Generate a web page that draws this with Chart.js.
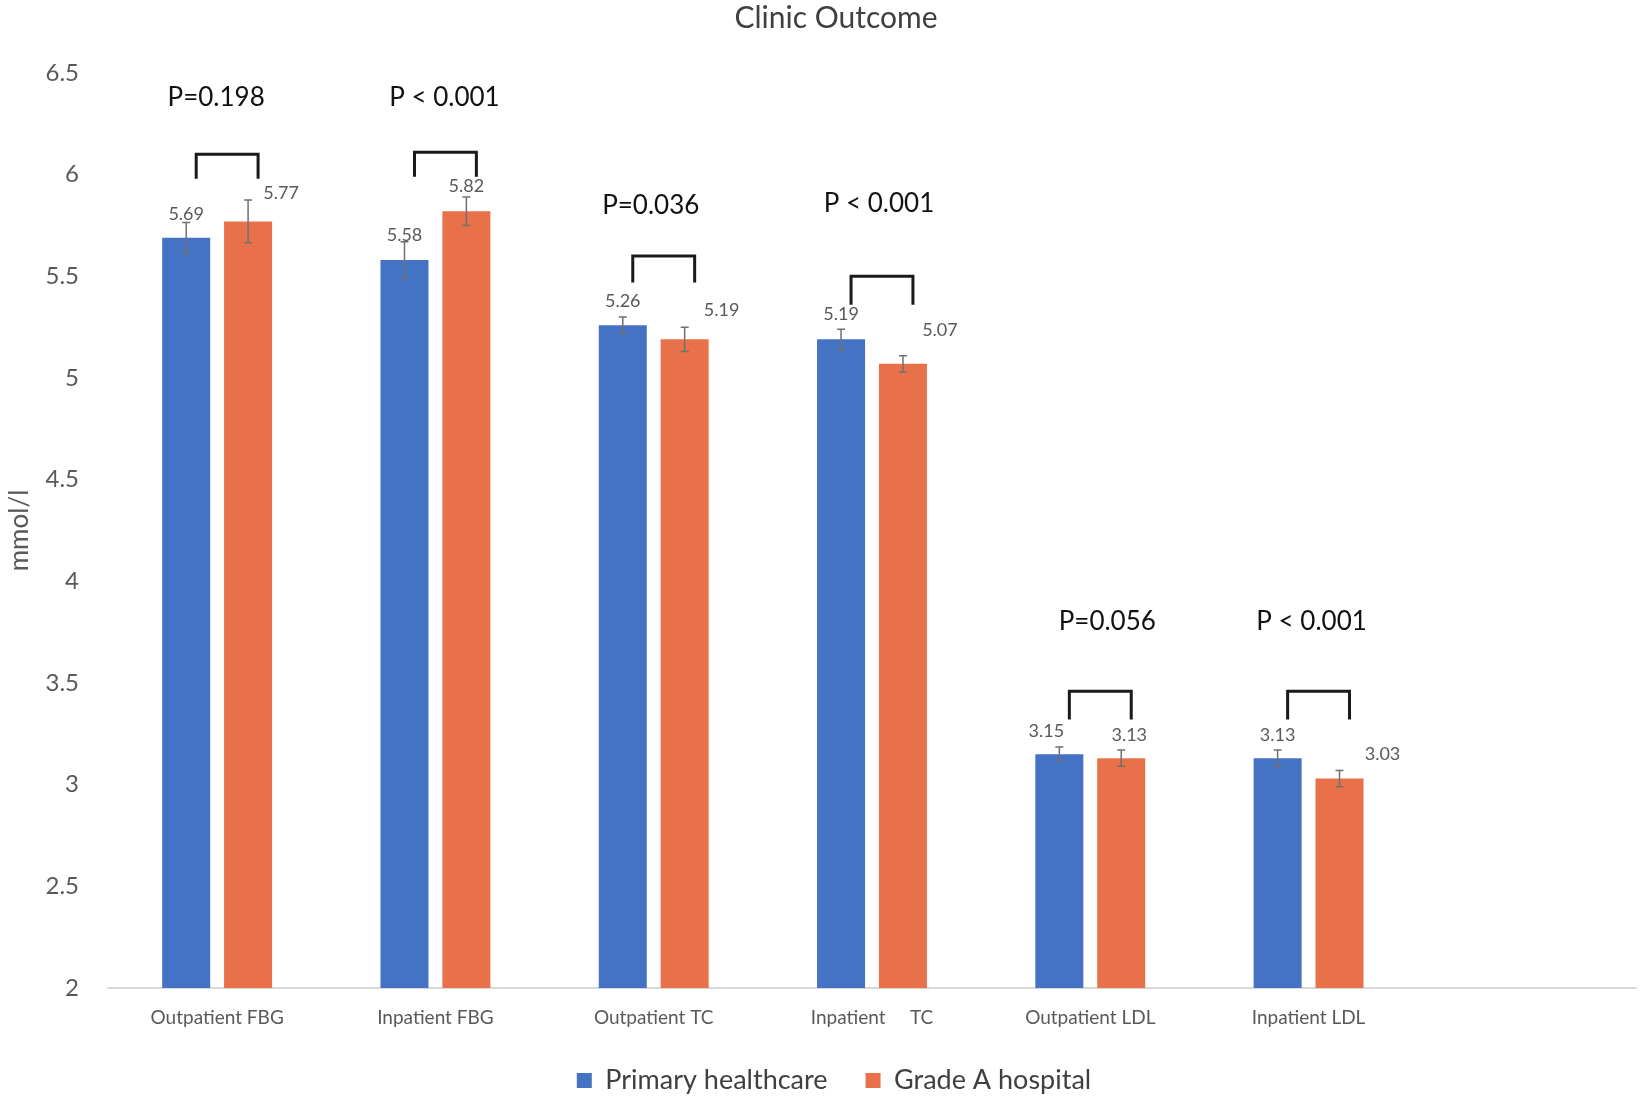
<!DOCTYPE html>
<html>
<head>
<meta charset="utf-8">
<script src="https://cdn.jsdelivr.net/npm/chart.js@4.4.1/dist/chart.umd.min.js"></script>
<style>
    html, body { margin: 0; padding: 0; background: #fff; }
    #wrap { width: 1642px; height: 1099px; }
</style>
</head>
<body>
<div id="wrap"><canvas id="js--chart--1"></canvas></div>
<script>
// last category is empty, the original leaves a blank slot on the right
const categories = ["Outpatient FBG", "Inpatient FBG", "Outpatient TC", "Inpatient     TC", "Outpatient LDL", "Inpatient LDL", ""];

const primary = [5.69, 5.58, 5.26, 5.19, 3.15, 3.13];
const gradeA = [5.77, 5.82, 5.19, 5.07, 3.13, 3.03];

const primaryErr = [0.075, 0.09, 0.04, 0.05, 0.035, 0.04];
const gradeAErr = [0.105, 0.07, 0.06, 0.04, 0.04, 0.04];

const pLabels = ["P=0.198", "P < 0.001", "P=0.036", "P < 0.001", "P=0.056", "P < 0.001"];
const pLevel = [6.38, 6.38, 5.85, 5.86, 3.80, 3.80];
const bracketTop = [6.10, 6.11, 5.60, 5.50, 3.46, 3.46];
const bracketFoot = [5.98, 5.99, 5.47, 5.36, 3.32, 3.32];

// nudges (px) for text placed by hand in the original
const pShift = [-11, -1, -13, -3, 7, -7];
const primaryNudge = [[0, -24], [0, -25], [0, -24], [0, -25], [-13, -23], [0, -23]];
const gradeANudge = [[33, -28], [0, -25], [37, -29], [37, -34], [8, -23], [43, -24]];

const FONT = "Lato, 'Open Sans', sans-serif";
const GREY = '#595959';

// title and legend sit a little right of the canvas centre in the original
const shiftBlocks = {
    id: 'shiftBlocks',
    afterLayout(chart) {
        if (chart.titleBlock) { chart.titleBlock.left += 18; chart.titleBlock.right += 18; }
        if (chart.legend) { chart.legend.left += 16; chart.legend.right += 16; }
    }
};

const annotate = {
    id: 'annotate',
    afterDatasetsDraw(chart) {
        const ctx = chart.ctx;
        const y = chart.scales.y;
        const blue = chart.getDatasetMeta(0).data;
        const orange = chart.getDatasetMeta(1).data;
        ctx.save();

        // error bars
        [[blue, primary, primaryErr], [orange, gradeA, gradeAErr]].forEach(([bars, vals, errs]) => {
            bars.forEach((bar, i) => {
                const top = y.getPixelForValue(vals[i] + errs[i]);
                const bot = y.getPixelForValue(vals[i] - errs[i]);
                ctx.strokeStyle = '#707070';
                ctx.lineWidth = 1.5;
                ctx.beginPath();
                ctx.moveTo(bar.x, top); ctx.lineTo(bar.x, bot);
                ctx.moveTo(bar.x - 4, top); ctx.lineTo(bar.x + 4, top);
                ctx.moveTo(bar.x - 4, bot); ctx.lineTo(bar.x + 4, bot);
                ctx.stroke();
            });
        });

        // value labels
        ctx.font = "18px " + FONT;
        ctx.fillStyle = GREY;
        ctx.textAlign = 'center';
        ctx.textBaseline = 'middle';
        [[blue, primary, primaryNudge], [orange, gradeA, gradeANudge]].forEach(([bars, vals, nudge]) => {
            bars.forEach((bar, i) => {
                ctx.fillText(vals[i].toFixed(2), bar.x + nudge[i][0], y.getPixelForValue(vals[i]) + nudge[i][1]);
            });
        });

        // brackets + p values
        for (let i = 0; i < pLabels.length; i++) {
            const l = blue[i].x + 10;
            const r = orange[i].x + 10;
            const t = y.getPixelForValue(bracketTop[i]);
            const f = y.getPixelForValue(bracketFoot[i]);
            ctx.strokeStyle = '#1a1a1a';
            ctx.lineWidth = 3;
            ctx.beginPath();
            ctx.moveTo(l, f); ctx.lineTo(l, t); ctx.lineTo(r, t); ctx.lineTo(r, f);
            ctx.stroke();

            ctx.font = "26px " + FONT;
            ctx.fillStyle = '#111';
            ctx.fillText(pLabels[i], (l + r) / 2 + pShift[i], y.getPixelForValue(pLevel[i]));
        }
        ctx.restore();
    }
};

const data = {
    labels: categories,
    datasets: [
        {
            label: "Primary healthcare",
            data: primary,
            backgroundColor: '#4472C4',
            categoryPercentage: 0.567,
            barPercentage: 0.776,
        },
        {
            label: "Grade A hospital",
            data: gradeA,
            backgroundColor: '#E8714A',
            categoryPercentage: 0.567,
            barPercentage: 0.776,
        }
    ]
};

const config = {
    type: 'bar',
    data: data,
    plugins: [annotate, shiftBlocks],
    options: {
        responsive: true,
        maintainAspectRatio: false,
        animation: false,
        layout: { padding: { left: 0, right: 6, top: 0, bottom: 0 } },
        plugins: {
            title: {
                display: true,
                text: "Clinic Outcome",
                color: '#404040',
                font: { family: FONT, size: 30, weight: 'normal' },
                padding: { top: 0, bottom: 37 },
            },
            legend: {
                position: 'bottom',
                maxHeight: 70,
                labels: {
                    color: '#404040',
                    font: { family: FONT, size: 27 },
                    boxWidth: 15,
                    boxHeight: 15,
                    padding: 38,
                },
            },
            tooltip: { enabled: false },
        },
        scales: {
            x: {
                grid: { display: false, drawTicks: false },
                border: { display: true, color: '#d9d9d9', width: 2 },
                ticks: {
                    color: GREY,
                    font: { family: FONT, size: 19 },
                    padding: 18,
                    maxRotation: 0,
                    autoSkip: false,
                },
                afterFit(scale) { scale.height = 41; },
            },
            y: {
                min: 2,
                max: 6.5,
                grid: { display: false, drawTicks: false },
                border: { display: false },
                ticks: {
                    stepSize: 0.5,
                    color: GREY,
                    font: { family: FONT, size: 24 },
                    padding: 29,
                    callback: (v) => String(v),
                },
                title: {
                    display: true,
                    text: "mmol/l",
                    color: GREY,
                    font: { family: FONT, size: 26 },
                    padding: { top: 4, bottom: 0 },
                },
                afterFit(scale) { scale.width = 108; },
            },
        },
    },
};

new Chart(document.getElementById("js--chart--1"), config);
</script>
</body>
</html>
